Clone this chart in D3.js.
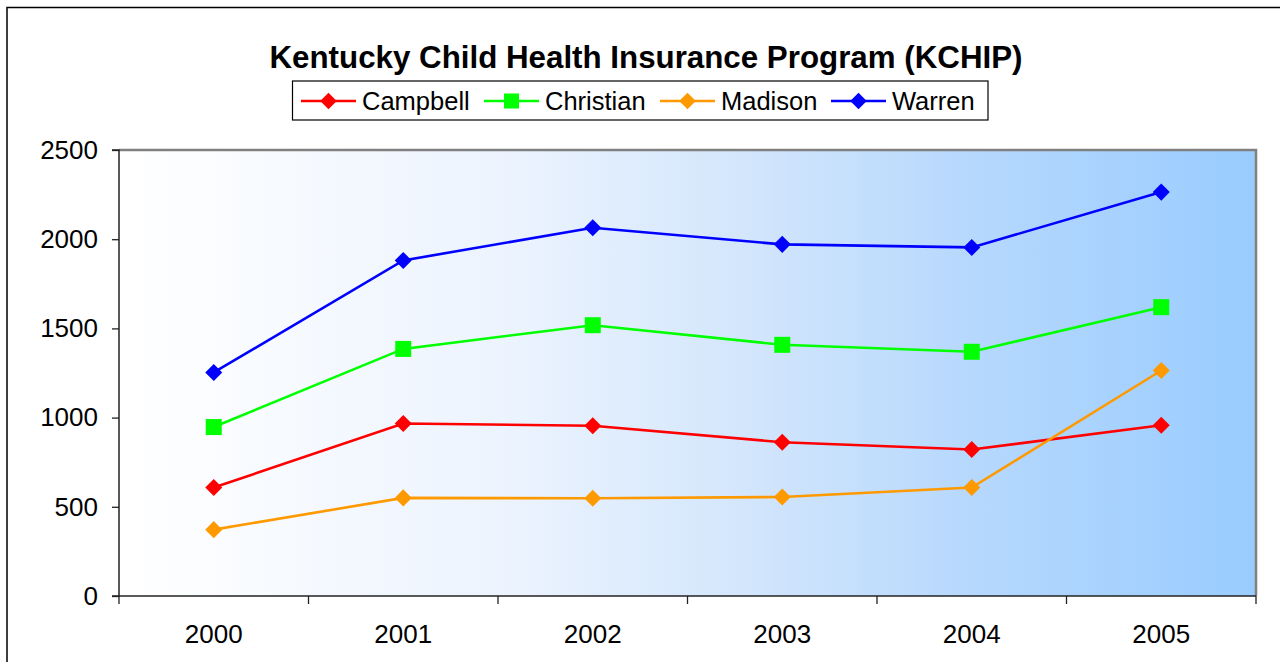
<!DOCTYPE html>
<html><head><meta charset="utf-8">
<script src="https://cdn.jsdelivr.net/npm/d3@7"></script>
<style>
html,body{margin:0;padding:0;background:#fff;}
svg{display:block;font-family:"Liberation Sans",Arial,sans-serif;}
</style></head>
<body>
<svg id="chart" width="1280" height="662"></svg>
<script>
const years = ["2000","2001","2002","2003","2004","2005"];
const campbell  = [608, 967, 954, 862, 821, 957];
const christian = [947, 1385, 1518, 1408, 1369, 1619];
const madison   = [372, 550, 548, 555, 608, 1264];
const warren    = [1253, 1881, 2064, 1971, 1954, 2264];
const seriesNames = ["Campbell","Christian","Madison","Warren"];
const seriesColors = ["#ff0000","#00ff00","#ff9900","#0000ff"];
const seriesMarkers = ["diamond","square","diamond","diamond"];
const yTicks = [0,500,1000,1500,2000,2500];
const title = "Kentucky Child Health Insurance Program (KCHIP)";

const seriesValues = [campbell, christian, madison, warren];

const svg = d3.select("#chart");
const L = 119, R = 1256, T = 150, B = 596;

// outer border
svg.append("rect").attr("x",7).attr("y",7.5).attr("width",1290).attr("height",700)
  .attr("fill","#fff").attr("stroke","#000").attr("stroke-width",1.5);

// gradient
const defs = svg.append("defs");
const grad = defs.append("linearGradient").attr("id","bg").attr("x1","0%").attr("x2","100%").attr("y1","0%").attr("y2","0%");
[[0,"#ffffff"],[0.35,"#ebf3fe"],[0.55,"#d3e6fc"],[0.75,"#b6d8fd"],[1,"#99ccff"]]
  .forEach(s=>grad.append("stop").attr("offset",s[0]).attr("stop-color",s[1]));

const x = d3.scaleBand().domain(years).range([L,R]);
const y = d3.scaleLinear().domain([0,2500]).range([B,T]);
const cx = d => x(d) + x.bandwidth()/2;

svg.append("rect").attr("x",L).attr("y",T).attr("width",R-L).attr("height",B-T).attr("fill","url(#bg)");
// plot border top/right gray
svg.append("path").attr("d",`M${L},${T}H${R}V${B}`).attr("fill","none").attr("stroke","#808080").attr("stroke-width",2.5);

// y axis
const yAxis = d3.axisLeft(y).tickValues(yTicks).tickSize(7).tickPadding(14).tickFormat(d3.format("d"));
const gy = svg.append("g").attr("transform",`translate(${L},0)`).call(yAxis);
gy.select(".domain").attr("stroke","#222").attr("stroke-width",1.5).attr("d",`M-7,${T}H0V${B}H-7`);
gy.selectAll(".tick line").attr("stroke","#222").attr("stroke-width",1.3);
gy.selectAll(".tick text").attr("font-size",26).attr("fill","#000").attr("font-family","'Liberation Sans',Arial,sans-serif");

// x axis
const xAxis = d3.axisBottom(x).tickSize(0).tickPadding(0);
const gx = svg.append("g").attr("transform",`translate(0,${B})`).call(xAxis);
gx.select(".domain").remove();
gx.selectAll(".tick text").attr("font-size",26).attr("fill","#000").attr("dy",null).attr("y",47)
  .attr("font-family","'Liberation Sans',Arial,sans-serif");
svg.append("line").attr("x1",L).attr("x2",R).attr("y1",B).attr("y2",B).attr("stroke","#222").attr("stroke-width",1.5);
const bounds = years.map(d=>x(d)).concat([R]);
svg.selectAll(".xt").data(bounds).enter().append("line")
  .attr("x1",d=>d).attr("x2",d=>d).attr("y1",B).attr("y2",B+8).attr("stroke","#222").attr("stroke-width",1.3);

// markers
function drawMarker(g, type, px, py, color, s){
  if(type==="square"){
    g.append("rect").attr("x",px-s/2).attr("y",py-s/2).attr("width",s).attr("height",s).attr("fill",color);
  } else {
    const h = s*0.55;
    g.append("path").attr("d",`M${px},${py-h}L${px+h},${py}L${px},${py+h}L${px-h},${py}Z`).attr("fill",color);
  }
}

const line = d3.line().x((d,i)=>cx(years[i])).y(d=>y(d));
seriesValues.forEach((vals,si)=>{
  const g = svg.append("g");
  g.append("path").datum(vals).attr("d",line).attr("fill","none")
    .attr("stroke",seriesColors[si]).attr("stroke-width",2.6);
  vals.forEach((v,i)=>drawMarker(g, seriesMarkers[si], cx(years[i]), y(v), seriesColors[si], seriesMarkers[si]==="square"?16:15.5));
});

// title
svg.append("text").attr("x",646).attr("y",68).attr("text-anchor","middle")
  .attr("font-size",31.3).attr("font-weight","bold").text(title);

// legend
svg.append("rect").attr("x",292.5).attr("y",81).attr("width",695.5).attr("height",39)
  .attr("fill","#fff").attr("stroke","#000").attr("stroke-width",1.2);
const legX = [301, 484, 660, 831];
seriesNames.forEach((n,i)=>{
  const g = svg.append("g");
  g.append("line").attr("x1",legX[i]).attr("x2",legX[i]+55).attr("y1",101).attr("y2",101)
    .attr("stroke",seriesColors[i]).attr("stroke-width",2.6);
  drawMarker(g, seriesMarkers[i], legX[i]+27.5, 101, seriesColors[i], 15);
  g.append("text").attr("x",legX[i]+61).attr("y",110).attr("font-size",25.5).text(n);
});
</script>
</body></html>
